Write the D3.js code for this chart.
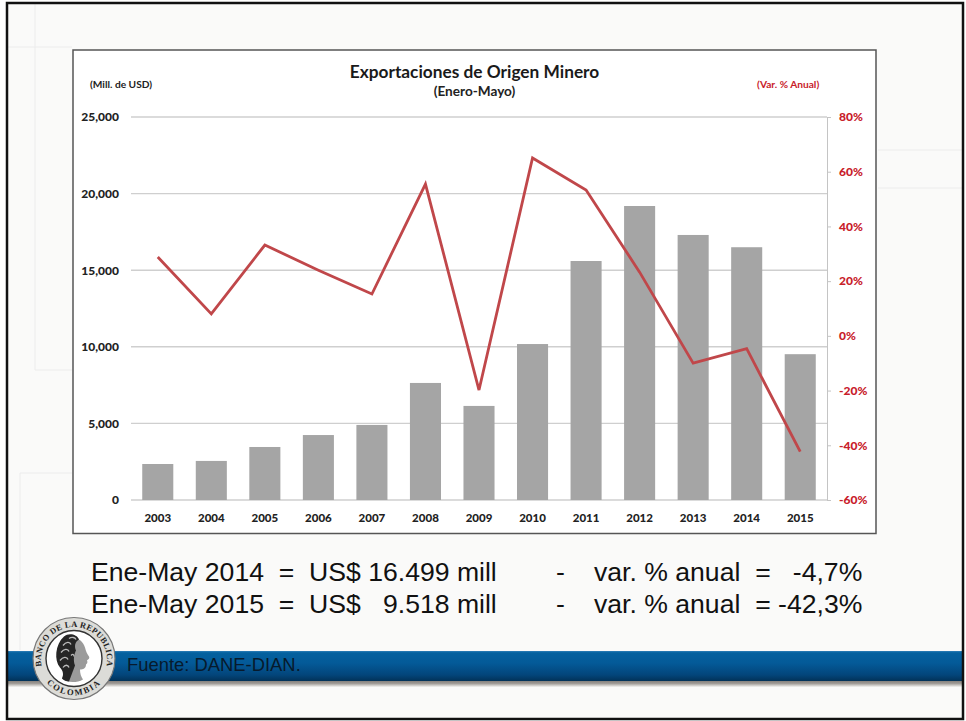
<!DOCTYPE html>
<html><head><meta charset="utf-8">
<script src="https://cdnjs.cloudflare.com/ajax/libs/d3/7.8.5/d3.min.js"></script>
<style>
html,body{margin:0;padding:0;background:#fff}
svg{display:block}
text{font-family:Lato,"Open Sans",sans-serif}
.note{font-family:"Liberation Sans",Arial,sans-serif;font-size:26.6px;fill:#111}
</style></head><body>
<div id="chart"></div>
<script>
const years = ["2003","2004","2005","2006","2007","2008","2009","2010","2011","2012","2013","2014","2015"];
const exportsUSD = [2350,2550,3460,4240,4900,7640,6140,10180,15600,19190,17300,16499,9518];
const variation = [28.8,8,33.2,24,15.3,55.5,-19.8,65,53.3,23.3,-10,-4.7,-42.3];
const leftTicks = [0,5000,10000,15000,20000,25000];
const rightTicks = [-60,-40,-20,0,20,40,60,80];
const noteRows = [
  ["Ene-May 2014  =  US$ 16.499 mill","-","var. % anual  =   -4,7%"],
  ["Ene-May 2015  =  US$   9.518 mill","-","var. % anual  = -42,3%"]
];

const W=966,H=721;
const svg=d3.select("#chart").append("svg").attr("width",W).attr("height",H);
const defs=svg.append("defs");
const bandGrad=defs.append("linearGradient").attr("id","band").attr("x1",0).attr("x2",0).attr("y1",0).attr("y2",1);
[[0,"#2f7fb8"],[0.06,"#04619f"],[0.4,"#045a98"],[0.8,"#03457a"],[1,"#023258"]].forEach(s=>bandGrad.append("stop").attr("offset",s[0]).attr("stop-color",s[1]));
const shadowGrad=defs.append("linearGradient").attr("id","bandShadow").attr("x1",0).attr("x2",0).attr("y1",0).attr("y2",1);
[[0,"#7c7874"],[0.5,"#a09c98"],[1,"#f4f4f2"]].forEach(s=>shadowGrad.append("stop").attr("offset",s[0]).attr("stop-color",s[1]));
const soft=defs.append("filter").attr("id","soft2");
soft.append("feGaussianBlur").attr("stdDeviation",0.5);

// slide
svg.append("rect").attr("x",0).attr("y",0).attr("width",W).attr("height",H).attr("fill","#fff");
svg.append("rect").attr("x",7).attr("y",3).attr("width",956).attr("height",716).attr("fill","#fafaf9");
const deco=svg.append("g").attr("stroke","#ececec").attr("fill","none");
[[35,4,35,370],[35,370,72,370],[8,47,72,47],[20,473,72,473],[20,473,20,650],[878,150,962,150],[878,188,962,188]].forEach(l=>
  deco.append("line").attr("x1",l[0]).attr("y1",l[1]).attr("x2",l[2]).attr("y2",l[3]));

// band
svg.append("rect").attr("x",8).attr("y",680).attr("width",954).attr("height",7).attr("fill","url(#bandShadow)");
svg.append("rect").attr("x",8).attr("y",651).attr("width",954).attr("height",30).attr("fill","url(#band)");

// slide border
svg.append("rect").attr("x",7).attr("y",3).attr("width",956).attr("height",716).attr("fill","none").attr("stroke","#111").attr("stroke-width",2.5);

// chart panel
svg.append("rect").attr("x",73).attr("y",50).attr("width",803).attr("height",483.5).attr("fill","#fff").attr("stroke","#555").attr("stroke-width",1.5);

const plot={l:131,r:827,t:117,b:500};
const x=d3.scaleBand().domain(years).range([plot.l,plot.r]).paddingInner(0.42).paddingOuter(0.21);
const xc=d=>x(d)+x.bandwidth()/2;
const yL=d3.scaleLinear().domain([0,25000]).range([plot.b,plot.t]);
const yR=d3.scaleLinear().domain([-60,80]).range([plot.b,plot.t]);

// gridlines
svg.append("g").selectAll("line").data(leftTicks).join("line")
  .attr("x1",plot.l).attr("x2",plot.r).attr("y1",d=>yL(d)).attr("y2",d=>yL(d))
  .attr("stroke","#cfcfcf").attr("stroke-width",1.4);

// bars
svg.append("g").selectAll("rect").data(years).join("rect")
  .attr("x",d=>x(d)).attr("width",x.bandwidth())
  .attr("y",(d,i)=>yL(exportsUSD[i])).attr("height",(d,i)=>plot.b-yL(exportsUSD[i]))
  .attr("fill","#a5a5a5");

// left axis
const axL=svg.append("g").attr("transform",`translate(${plot.l},0)`)
  .call(d3.axisLeft(yL).tickValues(leftTicks).tickFormat(d3.format(",")).tickSize(0).tickPadding(12));
axL.select(".domain").remove();
axL.selectAll("text").attr("font-family","Lato").attr("font-weight",900).attr("font-size",12).attr("fill","#222");

// right axis
const axR=svg.append("g").attr("transform",`translate(${plot.r},0)`)
  .call(d3.axisRight(yR).tickValues(rightTicks).tickFormat(d=>d+"%").tickSize(4).tickPadding(8));
axR.select(".domain").attr("stroke","#c4c4c4");
axR.selectAll("line").attr("stroke","#c4c4c4");
axR.selectAll("text").attr("font-family","Lato").attr("font-weight",900).attr("font-size",12).attr("fill","#c8202a");

// bottom axis
const axB=svg.append("g").attr("transform",`translate(0,${plot.b})`)
  .call(d3.axisBottom(x).tickSize(0).tickPadding(13.5));
axB.select(".domain").remove();
axB.selectAll("text").attr("font-family","Lato").attr("font-weight",900).attr("font-size",11.5).attr("fill","#222");

// line
svg.append("path").datum(years).attr("fill","none").attr("stroke","#c0474a").attr("stroke-width",2.8).attr("stroke-linejoin","miter")
  .attr("d",d3.line().x(d=>xc(d)).y((d,i)=>yR(variation[i])));

// titles
svg.append("text").attr("x",474.5).attr("y",78).attr("text-anchor","middle").attr("font-weight",700).attr("font-size",17.3).attr("fill","#1a1a1a").text("Exportaciones de Origen Minero");
svg.append("text").attr("x",474.5).attr("y",96).attr("text-anchor","middle").attr("font-weight",700).attr("font-size",13.6).attr("fill","#222").text("(Enero-Mayo)");
svg.append("text").attr("x",90).attr("y",88).attr("font-weight",700).attr("font-size",10.2).attr("fill","#222").text("(Mill. de USD)");
svg.append("text").attr("x",757).attr("y",88).attr("font-weight",700).attr("font-size",10.2).attr("fill","#c8202a").text("(Var. % Anual)");

// notes
noteRows.forEach((row,i)=>{
  const y=580.5+i*32;
  [91,556,594].forEach((px,j)=>{
    svg.append("text").attr("class","note").attr("x",px).attr("y",y).style("white-space","pre").text(row[j]);
  });
});

// footer source
svg.append("text").attr("x",127).attr("y",671).style("font-family","'Liberation Sans',Arial,sans-serif").attr("font-size",18.4).attr("fill","#071a2c").text("Fuente: DANE-DIAN.");

// seal
const seal=svg.append("g").attr("transform","translate(74,658.5)");
seal.append("circle").attr("r",41).attr("fill","#dcdcd8").attr("stroke","#777").attr("stroke-width",1.2);
seal.append("circle").attr("r",28).attr("fill","#fff").attr("stroke","#333").attr("stroke-width",1.4);
defs.append("path").attr("id","sealTop").attr("d","M -30.5 14 A 33 33 0 1 1 30.5 14");
defs.append("path").attr("id","sealBot").attr("d","M -30 21 A 36.5 36.5 0 0 0 30 21");
seal.append("text").attr("font-size",8.4).attr("font-weight",700).style("font-family","'Liberation Serif',serif").attr("fill","#222").attr("letter-spacing",0.35)
  .append("textPath").attr("href","#sealTop").attr("startOffset","50%").attr("text-anchor","middle").text("BANCO DE LA REPUBLICA");
seal.append("text").attr("font-size",8.6).attr("font-weight",700).style("font-family","'Liberation Serif',serif").attr("fill","#222").attr("letter-spacing",1.6)
  .append("textPath").attr("href","#sealBot").attr("startOffset","50%").attr("text-anchor","middle").text("COLOMBIA");
// head: face and neck
seal.append("path").attr("filter","url(#soft2)").attr("fill","#9b9b9b")
  .attr("d","M-4,-20 C4,-22 9,-17 11,-11 C12,-7 13,-5 15,-2 C16,0 14,1 13,2 C14,4 13,5 12,6 C12,10 9,11 6,11 C6,15 7,18 9,21 C2,25 -8,24 -12,20 C-9,14 -8,4 -4,-20 Z");
// head: hair
seal.append("path").attr("filter","url(#soft2)").attr("fill","#262626")
  .attr("d","M-10,-22 C-5,-26 3,-24 5,-19 C1,-17 0,-12 2,-8 C0,-4 -1,2 1,7 C-1,12 -3,18 -5,23 C-8,23 -10,22 -12,20 C-10,16 -11,12 -14,9 C-20,2 -19,-14 -10,-22 Z");
// head: highlights in hair
seal.append("path").attr("filter","url(#soft2)").attr("fill","none").attr("stroke","#bdbdbd").attr("stroke-width",1.3)
  .attr("d","M-11,-13 C-8,-17 -4,-17 -3,-14 M-13,-6 C-10,-10 -6,-10 -5,-7 M-14,2 C-11,-2 -7,-2 -6,1 M-11,9 C-9,6 -6,6 -5,9 M-5,-20 C-2,-22 1,-21 2,-19 M-3,-3 C-1,-5 0,-4 0,-2");
</script>
</body></html>
